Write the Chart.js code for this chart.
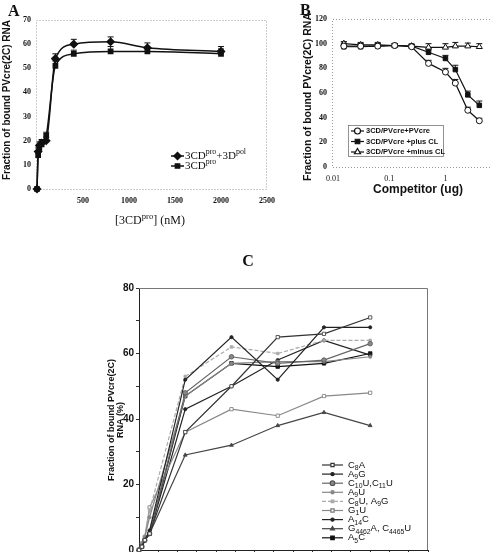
<!DOCTYPE html>
<html>
<head>
<meta charset="utf-8">
<script src="https://cdn.jsdelivr.net/npm/chart.js@4"></script>
<style>
html, body { margin: 0; padding: 0; overflow: hidden; background: #fff; }
body { position: relative; width: 495px; height: 552px; }
canvas { position: absolute; }
#chartA { left: 0; top: 0; }
#chartB { left: 245px; top: 0; }
#chartC { left: 80px; top: 250px; }
</style>
</head>
<body>
<canvas id="chartA" width="275" height="235"></canvas>
<canvas id="chartB" width="250" height="235"></canvas>
<canvas id="chartC" width="360" height="320"></canvas>
<script>
// ---- panel A data ----
const aConc = [0, 12.5, 25, 50, 100, 200, 400, 800, 1200, 2000];
const aProPol = [0, 15.5, 18, 19, 20, 54, 60, 61, 58.5, 57];
const aProPolErr = [0, 1.5, 1.5, 1.5, 1.5, 2, 2, 2, 2, 2];
const aPro = [0, 14, 17, 18.5, 22, 51, 56, 57, 57, 56];
const aProErr = [0, 1.5, 1.5, 1.5, 1.5, 2, 1.5, 2, 1.5, 2];
const aLabels = ["3CD^{pro}+3D^{pol}", "3CD^{pro}"];

// ---- panel B data ----
const bCompetitor = [0.0156, 0.031, 0.0625, 0.125, 0.25, 0.5, 1, 1.5, 2.5, 4];
const bPvcre = [98, 98, 98, 98.5, 97.5, 84, 77, 68, 46, 37.5];
const bPvcreErr = [2, 2, 2, 1.5, 1.5, 2.5, 3, 3, 2.5, 2];
const bPlusCL = [97.5, 97.5, 98, 98.5, 98, 93, 88, 79, 58.5, 50];
const bPlusCLErr = [4, 2.5, 2, 1.5, 1.5, 2, 2.5, 3.5, 3, 3.5];
const bMinusCL = [100, 99, 99, 98.5, 98, 97, 97, 98, 98, 97.5];
const bMinusCLErr = [1.5, 2, 2, 1.5, 1.5, 3, 3, 3, 2.5, 2.5];
const bLabels = ["3CD/PVcre+PVcre", "3CD/PVcre +plus CL", "3CD/PVcre +minus CL"];
const bTicks = [0.01, 0.1, 1];

// ---- panel C data ----
const cTime = [0, 0.75, 1.5, 2.75, 12, 24, 36, 48, 60];
const cLabels = ["C_{8}A", "A_{9}G", "C_{10}U,C_{11}U", "A_{9}U", "C_{8}U, A_{9}G",
  "G_{1}U", "A_{14}C", "G_{4462}A, C_{4465}U", "A_{5}C"];
const cC8A = [0, 1, 3, 5, 36, 50, 65, 66, 71];
const cA9G = [0, 1, 3, 6, 52, 65, 52, 68, 68];
const cC10U = [0, 1, 3, 5, 48, 59, 57, 58, 63];
const cA9U = [0, 2, 4, 10, 47, 57, 57.5, 57.5, 59];
const cC8UA9G = [0, 2, 4, 12, 53, 62, 60, 64, 64];
const cG1U = [0, 2, 4, 13, 36, 43, 41, 47, 48];
const cA14C = [0, 1, 3, 5, 43, 50, 58, 64, 59.5];
const cG4462A = [0, 1, 3, 5, 29, 32, 38, 42, 38];
const cA5C = [0, 1, 3, 5, 47, 57, 56, 57, 60];

const SANS = '"Liberation Sans", Arial, sans-serif';
const SERIF = '"Liberation Serif", "Times New Roman", serif';

function pts(xs, ys) { return xs.map((x, i) => ({ x: x, y: ys[i] })); }

// text with _{sub} and ^{sup}
function richText(ctx, str, x, y, size, family, weight, align) {
  const parts = str.split(/(_\{[^}]*\}|\^\{[^}]*\})/).filter(s => s);
  const segs = parts.map(p => {
    if (p[0] === '_' && p[1] === '{') return { t: p.slice(2, -1), s: size * 0.72, dy: size * 0.32 };
    if (p[0] === '^' && p[1] === '{') return { t: p.slice(2, -1), s: size * 0.72, dy: -size * 0.36 };
    return { t: p, s: size, dy: 0 };
  });
  let w = 0;
  segs.forEach(g => { ctx.font = weight + ' ' + g.s + 'px ' + family; g.w = ctx.measureText(g.t).width; w += g.w; });
  let cx = align === 'center' ? x - w / 2 : (align === 'right' ? x - w : x);
  ctx.textAlign = 'left';
  ctx.textBaseline = 'middle';
  segs.forEach(g => {
    ctx.font = weight + ' ' + g.s + 'px ' + family;
    ctx.fillText(g.t, cx, y + g.dy);
    cx += g.w;
  });
}

function vertText(ctx, str, x, y, size, family, weight) {
  ctx.save();
  ctx.translate(x, y);
  ctx.rotate(-Math.PI / 2);
  richText(ctx, str, 0, 0, size, family, weight, 'center');
  ctx.restore();
}

function legendMark(ctx, ds, x1, x2, y) {
  ctx.save();
  ctx.strokeStyle = ds.borderColor;
  ctx.lineWidth = ds.borderWidth;
  ctx.setLineDash(ds.borderDash || []);
  ctx.beginPath(); ctx.moveTo(x1, y); ctx.lineTo(x2, y); ctx.stroke();
  ctx.setLineDash([]);
  ctx.fillStyle = ds.pointBackgroundColor;
  ctx.strokeStyle = ds.pointBorderColor;
  Chart.helpers.drawPoint(ctx, { pointStyle: ds.pointStyle, radius: ds.pointRadius, rotation: 0, borderWidth: 1 }, (x1 + x2) / 2, y);
  ctx.restore();
}

// upward error bars with caps, drawn under the markers
const errorBars = {
  id: 'errorBars',
  beforeDatasetsDraw(chart) {
    const ctx = chart.ctx, ys = chart.scales.y;
    chart.data.datasets.forEach((ds, i) => {
      if (!ds.errors) return;
      const meta = chart.getDatasetMeta(i);
      ctx.save();
      ctx.strokeStyle = '#111';
      ctx.lineWidth = 1;
      meta.data.forEach((p, j) => {
        const e = ds.errors[j];
        if (!e) return;
        const top = ys.getPixelForValue(ds.data[j].y + e);
        ctx.beginPath();
        ctx.moveTo(p.x, p.y); ctx.lineTo(p.x, top);
        ctx.moveTo(p.x - 3, top); ctx.lineTo(p.x + 3, top);
        ctx.stroke();
      });
      ctx.restore();
    });
  }
};

function fixAxis(w, h) {
  return s => {
    if (w != null) { s.width = w; s.paddingTop = 0; s.paddingBottom = 0; }
    if (h != null) { s.height = h; s.paddingLeft = 0; s.paddingRight = 0; }
  };
}

Chart.defaults.animation = false;
Chart.defaults.responsive = false;
Chart.defaults.devicePixelRatio = 1;
Chart.defaults.plugins.legend.display = false;
Chart.defaults.plugins.tooltip.enabled = false;
Chart.defaults.color = '#111';

// ================= Panel A =================
const aSets = [
  { data: pts(aConc, aProPol), errors: aProPolErr, pointStyle: 'rectRot', pointRadius: 3.5 },
  { data: pts(aConc, aPro), errors: aProErr, pointStyle: 'rect', pointRadius: 3 }
].map(d => Object.assign({
  borderColor: '#111', borderWidth: 1.5, pointBackgroundColor: '#111', pointBorderColor: '#111',
  cubicInterpolationMode: 'monotone', clip: false
}, d));

new Chart(document.getElementById('chartA'), {
  type: 'line',
  data: { datasets: aSets },
  options: {
    layout: { padding: { top: 20, right: 8, left: 0, bottom: 0 } },
    scales: {
      x: {
        type: 'linear', min: 0, max: 2500,
        grid: { display: false, drawTicks: false }, border: { display: false },
        ticks: { stepSize: 500, padding: 7, font: { family: SERIF, size: 8, weight: 'bold' },
          callback: v => v === 0 ? '' : v },
        afterFit: fixAxis(null, 46)
      },
      y: {
        min: 0, max: 70,
        grid: { display: false, drawTicks: false }, border: { display: false },
        ticks: { stepSize: 10, padding: 6, font: { family: SERIF, size: 8, weight: 'bold' } },
        afterFit: fixAxis(37, null)
      }
    }
  },
  plugins: [errorBars, {
    id: 'decorA',
    beforeDatasetsDraw(chart) {
      const { ctx, chartArea: a } = chart;
      ctx.save();
      ctx.strokeStyle = '#999'; ctx.lineWidth = 1; ctx.setLineDash([1, 2]);
      ctx.strokeRect(a.left - 0.5, a.top + 0.5, a.right - a.left, a.bottom - a.top);
      ctx.restore();
    },
    afterDraw(chart) {
      const ctx = chart.ctx;
      ctx.save();
      ctx.fillStyle = '#111';
      richText(ctx, 'A', 8, 12, 16, SERIF, 'bold', 'left');
      vertText(ctx, 'Fraction of bound PVcre(2C) RNA', 7, 100, 10, SANS, 'bold');
      richText(ctx, '[3CD^{pro}] (nM)', 150, 221, 12, SERIF, 'normal', 'center');
      aSets.forEach((ds, i) => {
        const y = 156 + i * 10;
        legendMark(ctx, ds, 171, 184, y);
        ctx.fillStyle = '#111';
        richText(ctx, aLabels[i], 185, y, 11, SERIF, 'normal', 'left');
      });
      ctx.restore();
    }
  }]
});

// ================= Panel B =================
const bSets = [
  { data: pts(bCompetitor, bPvcre), errors: bPvcreErr, pointStyle: 'circle', pointRadius: 3, pointBackgroundColor: '#fff' },
  { data: pts(bCompetitor, bPlusCL), errors: bPlusCLErr, pointStyle: 'rect', pointRadius: 3.2, pointBackgroundColor: '#111' },
  { data: pts(bCompetitor, bMinusCL), errors: bMinusCLErr, pointStyle: 'triangle', pointRadius: 3.5, pointBackgroundColor: '#fff' }
].map(d => Object.assign({
  borderColor: '#111', borderWidth: 1.2, pointBorderColor: '#111', pointBorderWidth: 1, tension: 0, clip: false
}, d));

new Chart(document.getElementById('chartB'), {
  type: 'line',
  data: { datasets: bSets },
  options: {
    layout: { padding: { top: 19, right: 0, left: 0, bottom: 0 } },
    scales: {
      x: {
        type: 'logarithmic', min: 0.01, max: 6.2,
        grid: { display: false, drawTicks: false }, border: { display: false },
        afterBuildTicks: s => { s.ticks = bTicks.map(v => ({ value: v })); },
        ticks: { padding: 7, font: { family: SERIF, size: 8 }, callback: v => String(v) },
        afterFit: fixAxis(null, 68)
      },
      y: {
        min: 0, max: 120,
        grid: { display: false, drawTicks: false }, border: { display: false },
        ticks: { stepSize: 20, padding: 6, font: { family: SERIF, size: 8, weight: 'bold' } },
        afterFit: fixAxis(88, null)
      }
    }
  },
  plugins: [errorBars, {
    id: 'decorB',
    beforeDatasetsDraw(chart) {
      const { ctx, chartArea: a } = chart;
      ctx.save();
      ctx.strokeStyle = '#999'; ctx.lineWidth = 1; ctx.setLineDash([1, 2]);
      ctx.beginPath();
      ctx.moveTo(a.right, a.top + 0.5); ctx.lineTo(a.left - 0.5, a.top + 0.5);
      ctx.lineTo(a.left - 0.5, a.bottom + 0.5); ctx.lineTo(a.right, a.bottom + 0.5);
      ctx.stroke();
      ctx.restore();
    },
    afterDraw(chart) {
      const ctx = chart.ctx;
      ctx.save();
      ctx.fillStyle = '#111';
      richText(ctx, 'B', 55, 11, 16, SERIF, 'bold', 'left');
      vertText(ctx, 'Fraction of bound PVcre(2C) RNA', 63, 97, 10.5, SANS, 'bold');
      richText(ctx, 'Competitor (ug)', 173, 190, 12, SANS, 'bold', 'center');
      ctx.strokeStyle = '#777'; ctx.lineWidth = 0.8;
      ctx.strokeRect(103.5, 125.5, 95, 31);
      bSets.forEach((ds, i) => {
        const y = 131 + i * 10.5;
        legendMark(ctx, ds, 106, 119, y);
        ctx.fillStyle = '#111';
        richText(ctx, bLabels[i], 121, y, 7.5, SANS, 'bold', 'left');
      });
      ctx.restore();
    }
  }]
});

// ================= Panel C =================
const cSeries = [cC8A, cA9G, cC10U, cA9U, cC8UA9G, cG1U, cA14C, cG4462A, cA5C];
const cStyles = [
  { borderColor: '#333', pointStyle: 'rect', pointRadius: 2.3, pointBackgroundColor: '#fff', pointBorderColor: '#333' },
  { borderColor: '#222', pointStyle: 'circle', pointRadius: 1.6, pointBackgroundColor: '#222', pointBorderColor: '#222' },
  { borderColor: '#666', pointStyle: 'circle', pointRadius: 2.3, pointBackgroundColor: '#888', pointBorderColor: '#555' },
  { borderColor: '#888', pointStyle: 'circle', pointRadius: 1.6, pointBackgroundColor: '#888', pointBorderColor: '#888' },
  { borderColor: '#aaa', borderDash: [4, 2], pointStyle: 'rect', pointRadius: 1.8, pointBackgroundColor: '#aaa', pointBorderColor: '#aaa' },
  { borderColor: '#888', pointStyle: 'rect', pointRadius: 2.3, pointBackgroundColor: '#fff', pointBorderColor: '#777' },
  { borderColor: '#222', pointStyle: 'circle', pointRadius: 1.6, pointBackgroundColor: '#222', pointBorderColor: '#222' },
  { borderColor: '#444', pointStyle: 'triangle', pointRadius: 2.2, pointBackgroundColor: '#444', pointBorderColor: '#444' },
  { borderColor: '#111', pointStyle: 'rect', pointRadius: 2.5, pointBackgroundColor: '#111', pointBorderColor: '#111' }
];
const cSets = cSeries.map((ys, i) => Object.assign({
  data: pts(cTime, ys), borderWidth: 1.2, pointBorderWidth: 0.8, tension: 0, clip: false
}, cStyles[i]));

new Chart(document.getElementById('chartC'), {
  type: 'line',
  data: { datasets: cSets },
  options: {
    layout: { padding: { top: 38, right: 12, left: 0, bottom: 0 } },
    scales: {
      x: {
        type: 'linear', min: 0, max: 75,
        grid: { drawOnChartArea: false, drawTicks: true, tickLength: 4, color: '#333' },
        border: { display: true, color: '#222', width: 1 },
        ticks: { stepSize: 5, display: false },
        afterFit: fixAxis(null, 20)
      },
      y: {
        min: 0, max: 80,
        grid: { drawOnChartArea: false, drawTicks: true, tickLength: 3, color: '#333' },
        border: { display: true, color: '#222', width: 1 },
        ticks: { stepSize: 10, padding: 2, font: { family: SANS, size: 10, weight: 'bold' },
          callback: v => v % 20 === 0 ? v : '' },
        afterFit: fixAxis(59, null)
      }
    }
  },
  plugins: [{
    id: 'decorC',
    beforeDatasetsDraw(chart) {
      const { ctx, chartArea: a } = chart;
      ctx.save();
      ctx.strokeStyle = '#777'; ctx.lineWidth = 1;
      ctx.beginPath();
      ctx.moveTo(a.left, a.top + 0.5); ctx.lineTo(a.right - 0.5, a.top + 0.5); ctx.lineTo(a.right - 0.5, a.bottom);
      ctx.stroke();
      ctx.restore();
    },
    afterDraw(chart) {
      const ctx = chart.ctx;
      ctx.save();
      ctx.fillStyle = '#111';
      richText(ctx, 'C', 168, 12, 16, SERIF, 'bold', 'center');
      vertText(ctx, 'Fraction of bound PVcre(2C)', 32, 170, 9, SANS, 'bold');
      vertText(ctx, 'RNA (%)', 41, 170, 9, SANS, 'bold');
      cSets.forEach((ds, i) => {
        const y = 215 + i * 9.1;
        legendMark(ctx, ds, 242, 263, y);
        ctx.fillStyle = '#111';
        richText(ctx, cLabels[i], 268, y, 9.5, SANS, 'normal', 'left');
      });
      ctx.restore();
    }
  }]
});
</script>
</body>
</html>
